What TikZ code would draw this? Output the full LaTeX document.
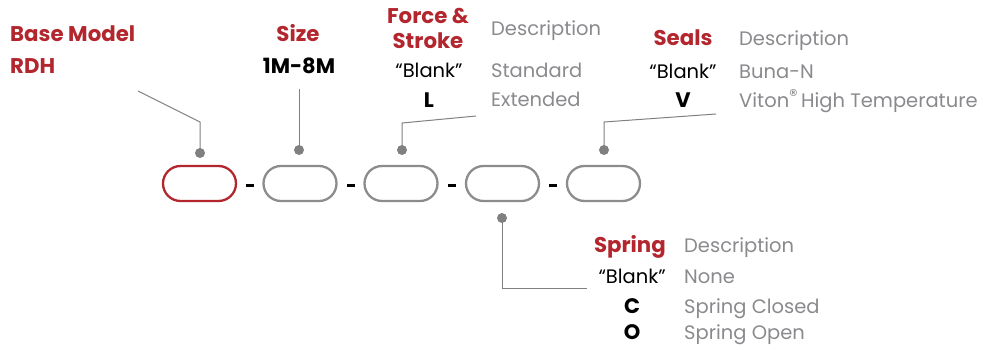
\documentclass[tikz,border=0pt]{standalone}
\usepackage{fontspec}
\setmainfont{Poppins}
\usetikzlibrary{calc}
\definecolor{hred}{HTML}{B3262E}
\definecolor{tgray}{HTML}{8A8A8E}
\definecolor{lgray}{HTML}{808080}
\definecolor{cgray}{HTML}{8C8C8C}
\tikzset{
  capsule/.style={draw=cgray, line width=2.3pt, minimum width=73pt, minimum height=35pt, rounded corners=17.5pt, inner sep=0pt},
  redcap/.style={capsule, draw=hred},
  sep/.style={fill=black, minimum width=8pt, minimum height=3pt, inner sep=0pt},
  dot/.style={circle, fill=lgray, minimum size=10pt, inner sep=0pt},
  conn/.style={draw=lgray, line width=1pt},
  head/.style={text=hred, font=\fontsize{21.3}{21.3}\selectfont\bfseries, inner sep=0pt},
  code/.style={text=black, font=\fontsize{21}{21}\selectfont\bfseries, inner sep=0pt},
  blank/.style={text=black, font=\fontsize{19.5}{19.5}\selectfont, inner sep=0pt},
  desc/.style={text=tgray, font=\fontsize{19.5}{19.5}\selectfont, inner sep=0pt},
}
\begin{document}
\begin{tikzpicture}[x=1pt,y=-1pt]
\useasboundingbox (0,0) rectangle (983,349);
% capsules
\node[redcap] (c1) at (199.5,183.5) {};
\node[capsule] (c2) at (300,183.5) {};
\node[capsule] (c3) at (401,183.5) {};
\node[capsule] (c4) at (502.5,183.5) {};
\node[capsule] (c5) at (603.5,183.5) {};
\node[sep] (s1) at (250,185) {};
\node[sep] (s2) at (351,185) {};
\node[sep] (s3) at (452,185) {};
\node[sep] (s4) at (553,185) {};
% dots
\node[dot] (p1) at (200,153) {};
\node[dot] (p2) at (299,150) {};
\node[dot] (p3) at (402,150) {};
\node[dot] (p5) at (604,150) {};
\node[dot] (p4) at (502,218) {};
% connector points
\coordinate (a1) at (138,91);
\coordinate (b1) at (200,122);
\coordinate (a2) at (299,89);
\coordinate (a3) at (476,116);
\coordinate (b3) at (402,123);
\coordinate (a5) at (716,114);
\coordinate (b5) at (604,122);
\coordinate (b4) at (502,288);
\coordinate (a4) at (587,288);
\draw[conn] (a1) -- (b1) -- (p1.center);
\draw[conn] (a2) -- (p2.center);
\draw[conn] (a3) -- (b3) -- (p3.center);
\draw[conn] (a5) -- (b5) -- (p5.center);
\draw[conn] (p4.center) -- (b4) -- (a4);
% base model
\node[head, anchor=base west] (t1) at (10,41) {Base Model};
\node[head, anchor=base west] (t1v) at (10,73) {RDH};
% size
\node[head, anchor=base] (t2) at (298,41) {Size};
\node[code, anchor=base] (t2v) at (299,73) {1M-8M};
% force
\node[head, anchor=base] (t3a) at (428,23) {Force \&};
\node[head, anchor=base] (t3b) at (428,48) {Stroke};
\node[blank, anchor=base] (t3v1) at (429,77) {“Blank”};
\node[code, anchor=base] (t3v2) at (429,107) {L};
\node[desc, anchor=base west] (t3d) at (491,35) {Description};
\node[desc, anchor=base west] (t3d1) at (491,77) {Standard};
\node[desc, anchor=base west] (t3d2) at (491,106) {Extended};
% seals
\node[head, anchor=base] (t5) at (683,45) {Seals};
\node[blank, anchor=base] (t5v1) at (683,78) {“Blank”};
\node[code, anchor=base] (t5v2) at (683,107) {V};
\node[desc, anchor=base west] (t5d) at (739,45) {Description};
\node[desc, anchor=base west] (t5d1) at (739,78) {Buna-N};
\node[desc, anchor=base west] (t5d2) at (739,107) {Viton\raisebox{6pt}{\fontsize{17}{17}\selectfont ®}\,High Temperature};
% spring
\node[head, anchor=base east] (t4) at (666,252) {Spring};
\node[blank, anchor=base east] (t4v1) at (666,283) {“Blank”};
\node[code, anchor=base] (t4v2) at (632,313) {C};
\node[code, anchor=base] (t4v3) at (632,339) {O};
\node[desc, anchor=base west] (t4d) at (684,252) {Description};
\node[desc, anchor=base west] (t4d1) at (684,283) {None};
\node[desc, anchor=base west] (t4d2) at (684,313) {Spring Closed};
\node[desc, anchor=base west] (t4d3) at (684,339) {Spring Open};
\end{tikzpicture}
\end{document}
